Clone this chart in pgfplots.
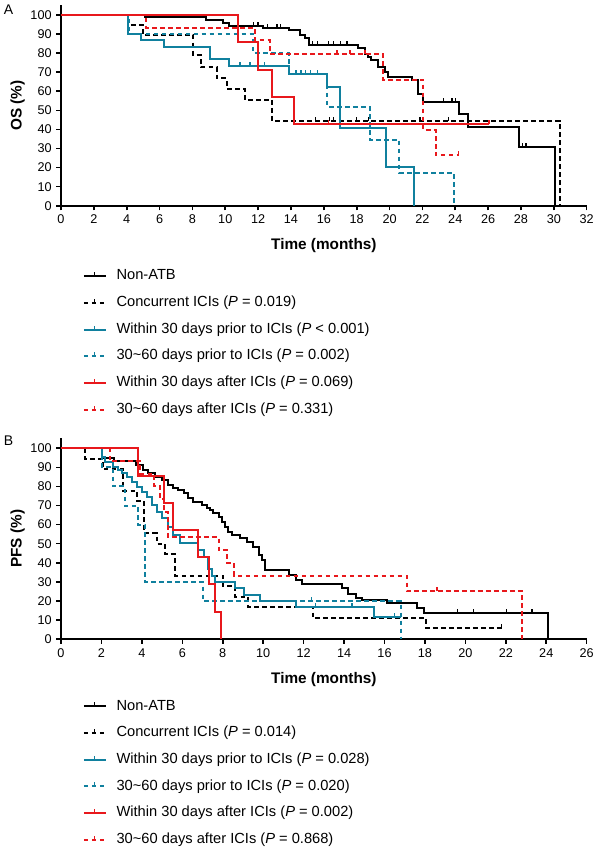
\documentclass[border=0pt]{standalone}
\usepackage{pgfplots}
\pgfplotsset{compat=1.18}
\usepackage{fontspec}
\setmainfont{Liberation Sans}
\definecolor{teal1}{RGB}{16,128,158}
\definecolor{red1}{RGB}{232,24,28}
\pgfdeclareplotmark{cens}{\pgfpathmoveto{\pgfpoint{0pt}{0pt}}\pgfpathlineto{\pgfpoint{0pt}{3pt}}\pgfusepathqstroke}
\pgfplotsset{
  kmaxis/.style={
    scale only axis, width=394.3pt, height=150.5pt,
    ymin=0, ymax=105.2,
    axis x line*=bottom, axis y line*=left,
    axis line style={line width=1.2pt},
    tick style={line width=1.2pt, black},
    tick align=outside, major tick length=3.5pt,
    ytick={0,10,...,100},
    xtick distance=2,
    ticklabel style={font=\fontsize{9.5}{11}\selectfont},
    /pgf/number format/assume math mode=true,
    clip=false,
    every axis y label/.style={at={(axis description cs:-0.0824,0.5)}, rotate=90, anchor=center, font=\bfseries\fontsize{11.5}{13}\selectfont},
    every axis x label/.style={at={(axis description cs:0.5,-0.196)}, anchor=center, font=\bfseries\fontsize{11.5}{13}\selectfont},
    legend style={at={(axis description cs:0.041,-0.30)}, anchor=north west, draw=none, fill=none, inner sep=0pt, row sep=9.5pt, column sep=7.5pt, font=\fontsize{11}{13}\selectfont, nodes={inner sep=0pt, text height=8pt, text depth=2.5pt}},
    legend cell align=left,
    legend image code/.code={
      \draw[#1] (0pt,0pt) -- (16.3pt,0pt);
      \draw[#1, solid, line width=0.9pt] (8.15pt,0pt) -- (8.15pt,3pt);
    },
  },
  km/.style={const plot, line width=1.5pt, mark=none},
  dsh/.style={dash pattern=on 3.5pt off 2.5pt},
  cs/.style={only marks, mark=cens, mark options={solid, line width=1pt}, forget plot},
}
\begin{document}
\begin{tikzpicture}
\path[use as bounding box] (-45.75pt,-487pt) rectangle (404.25pt,154.3pt);
% ---------------- Panel A ----------------
\begin{axis}[kmaxis, xmin=0, xmax=32, ylabel={OS (\%)}, xlabel={Time (months)},
  legend style={at={(axis description cs:0.041,-0.315)}}]
\addplot[km, black] coordinates {(0,100) (5.1,98.8) (8.85,97.5) (9.85,95.6) (10.2,94) (12.3,93) (13.85,92.1) (14.55,89.5) (14.85,87.7) (15.1,84.2) (18.1,82.5) (18.5,79.8) (18.7,78) (18.9,76.3) (19.3,72.8) (19.7,70.2) (19.9,67.5) (21.35,65.8) (21.75,58.8) (22.05,54.4) (24.2,48.2) (24.8,41.2) (27.9,30.7) (30.07,0)};
\addlegendentry{Non-ATB}
\addplot[km, black, dsh] coordinates {(0,100) (4.1,94.7) (5.0,89.5) (8.05,78.9) (8.5,72.5) (9.5,66.7) (10.1,61.4) (11.2,55.6) (12.85,44.6) (30.37,0)};
\addlegendentry{Concurrent ICIs (\textit{P} = 0.019)}
\addplot[km, teal1] coordinates {(0,100) (4.1,89.8) (4.9,86.7) (6.3,83.3) (9.05,76.7) (10.25,73.3) (13.85,69.2) (16.2,62) (17.0,40.6) (19.8,20.3) (21.5,0)};
\addlegendentry{Within 30 days prior to ICIs (\textit{P} < 0.001)}
\addplot[km, teal1, dsh] coordinates {(0,100) (4.15,89.8) (11.7,80) (13.85,69.2) (16.2,51.7) (18.8,34.5) (20.6,17.3) (23.9,0)};
\addlegendentry{30\textasciitilde60 days prior to ICIs (\textit{P} = 0.002)}
\addplot[km, red1] coordinates {(0,100) (10.8,85.7) (12.0,71.4) (12.85,57.1) (14.2,42.9) (26.05,42.9)};
\addlegendentry{Within 30 days after ICIs (\textit{P} = 0.069)}
\addplot[km, red1, dsh] coordinates {(0,100) (5.2,93.3) (11.8,86.7) (12.7,79.5) (19.6,66.0) (22.05,39.7) (22.8,26.5) (24.2,26.5)};
\addlegendentry{30\textasciitilde60 days after ICIs (\textit{P} = 0.331)}
% censor marks
\addplot[cs, black] coordinates {(11.7,94) (12.0,94) (12.55,93) (13.15,93) (13.35,93) (15.3,84.2) (15.6,84.2) (16.3,84.2) (16.6,84.2) (17.0,84.2) (17.4,84.2) (23.3,54.4) (23.8,54.4) (24.0,54.4) (28.1,30.7) (28.3,30.7)};
\addplot[cs, black] coordinates {(15.5,44.6) (16.35,44.6) (16.6,44.6) (18.0,44.6) (18.7,44.6) (21.85,44.6) (23.6,44.6)};
\addplot[cs, teal1] coordinates {(10.9,73.3) (11.5,73.3) (12.4,73.3) (14.3,69.2) (14.6,69.2) (14.9,69.2) (15.2,69.2) (15.6,69.2)};
\addplot[cs, red1] coordinates {(16.3,42.9) (26.05,42.9)};
\addplot[cs, red1] coordinates {(16.8,79.5) (17.6,79.5) (18.5,79.5) (24.2,26.5)};
\node[font=\fontsize{10.5}{12}\selectfont] at (axis description cs:-0.1,0.975) {A};
\end{axis}
% ---------------- Panel B ----------------
\begin{axis}[kmaxis, at={(0pt,-325pt)}, xmin=0, xmax=26, ylabel={PFS (\%)}, xlabel={Time (months)},
  every axis x label/.style={at={(axis description cs:0.5,-0.2)}, anchor=center, font=\bfseries\fontsize{11.5}{13}\selectfont}]
\addplot[km, black] coordinates {(0,100) (2.05,94.8) (2.6,93.1) (3.7,91.3) (4.08,88.6) (4.32,86.9) (4.65,85.1) (4.98,83.4) (5.31,80.8) (5.56,79) (5.81,78.1) (6.06,76.4) (6.3,73.8) (6.55,72) (6.96,70.3) (7.21,68.5) (7.38,67.7) (7.54,65.9) (7.79,64.2) (7.95,61.5) (8.12,58.9) (8.28,56.3) (8.45,54.5) (8.86,52.8) (9.19,51) (9.52,48.4) (9.77,44.1) (9.93,41.4) (10.1,36.2) (11.3,33.6) (11.6,30.9) (11.9,28.6) (13.9,26.5) (14.2,23.5) (14.6,21.5) (14.9,20.5) (16.1,18.8) (17.6,16.3) (17.95,13.5) (24.1,0)};
\addlegendentry{Non-ATB}
\addplot[km, black, dsh] coordinates {(0,100) (1.19,94.4) (2.09,88.9) (3.08,77.8) (3.75,72.2) (4.1,55.6) (4.73,50) (5.15,44.4) (5.64,33.3) (8.03,27.8) (8.61,22.2) (9.27,16.7) (12.45,11.1) (18.05,5.6) (21.8,5.6)};
\addlegendentry{Concurrent ICIs (\textit{P} = 0.014)}
\addplot[km, teal1] coordinates {(0,100) (2.01,95.6) (2.18,93) (2.59,90.4) (2.84,88.6) (3.0,86.9) (3.25,85.1) (3.5,82.5) (3.75,79.9) (4.0,77.3) (4.24,74.7) (4.49,70.3) (4.74,66.8) (4.98,63.3) (5.31,58.9) (5.56,54.5) (5.89,50.2) (6.8,46.7) (7.05,43.2) (7.29,36.7) (7.45,33.3) (7.6,30) (8.61,26.6) (9.03,23.1) (9.85,20) (11.6,16.8) (15.5,11.5) (16.8,11.5)};
\addlegendentry{Within 30 days prior to ICIs (\textit{P} = 0.028)}
\addplot[km, teal1, dsh] coordinates {(0,100) (2.05,90) (2.55,80) (3.15,70) (3.8,60) (4.15,30) (7.0,20) (16.8,0)};
\addlegendentry{30\textasciitilde60 days prior to ICIs (\textit{P} = 0.020)}
\addplot[km, red1] coordinates {(0,100) (3.8,85.7) (5.1,71.4) (5.55,57.1) (6.8,42.9) (7.3,28.6) (7.62,14.3) (7.9,0)};
\addlegendentry{Within 30 days after ICIs (\textit{P} = 0.002)}
\addplot[km, red1, dsh] coordinates {(0,100) (2.4,93.3) (3.9,86.7) (4.6,80) (4.9,73.3) (5.1,66.7) (5.3,53.3) (7.8,46.7) (8.2,40) (8.55,33.3) (17.1,25) (22.8,0)};
\addlegendentry{30\textasciitilde60 days after ICIs (\textit{P} = 0.868)}
\addplot[cs, black] coordinates {(19.6,13.5) (20.4,13.5) (22.05,13.5) (23.3,13.5)};
\addplot[cs, black] coordinates {(21.8,5.6)};
\addplot[cs, teal1] coordinates {(12.6,16.8) (14.4,16.8) (16.5,11.5)};
\addplot[cs, teal1] coordinates {(12.4,20)};
\addplot[cs, red1] coordinates {(18.6,25)};
\node[font=\fontsize{10.5}{12}\selectfont] at (axis description cs:-0.1,0.9875) {B};
\end{axis}
\end{tikzpicture}
\end{document}
